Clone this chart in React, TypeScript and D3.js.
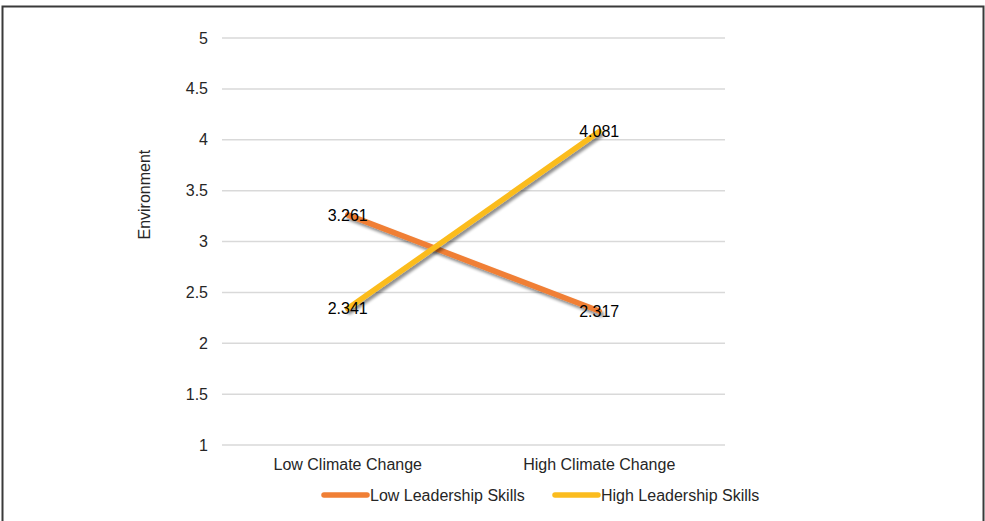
import React from "react";
import * as d3 from "d3";

const categories = ["Low Climate Change", "High Climate Change"];
const seriesNames = ["Low Leadership Skills", "High Leadership Skills"];
const lowLeadership = [3.261, 2.317];
const highLeadership = [2.341, 4.081];
const yTicks = [1, 1.5, 2, 2.5, 3, 3.5, 4, 4.5, 5];
const colors = ["#F07F35", "#FBBC1E"];

const W = 985;
const H = 521;
const FONT = "'Liberation Sans', Arial, sans-serif";
const FS = 16;

export default function App() {
  const x = d3.scalePoint<string>().domain(categories).range([222, 725]).padding(0.5);
  const y = d3.scaleLinear().domain([1, 5]).range([445, 38]);
  const line = d3
    .line<number>()
    .x((_, i) => x(categories[i]) as number)
    .y((d) => y(d));
  const series = [lowLeadership, highLeadership];

  return (
    <div style={{ position: "fixed", left: 0, top: 0, margin: 0 }}>
      <svg width={W} height={H} style={{ display: "block", background: "#fff" }}>
        <defs>
          <filter id="sh" x="-20%" y="-20%" width="140%" height="160%">
            <feGaussianBlur in="SourceAlpha" stdDeviation="1.5" />
            <feOffset dx="1.5" dy="2.5" result="b" />
            <feComponentTransfer>
              <feFuncA type="linear" slope="0.45" />
            </feComponentTransfer>
            <feMerge>
              <feMergeNode />
              <feMergeNode in="SourceGraphic" />
            </feMerge>
          </filter>
        </defs>
        <rect x={2.5} y={6.5} width={981} height={530} fill="none" stroke="#3a3a3a" strokeWidth={2} />
        {yTicks.map((t) => (
          <g key={t}>
            <line x1={222} x2={725} y1={y(t)} y2={y(t)} stroke="#d9d9d9" strokeWidth={1.5} />
            <text x={208} y={y(t)} dy="0.35em" textAnchor="end" fontFamily={FONT} fontSize={FS} fill="#262626">
              {t}
            </text>
          </g>
        ))}
        <text
          transform={`translate(150,${y(3.5) + 4}) rotate(-90)`}
          textAnchor="middle"
          fontFamily={FONT}
          fontSize={FS}
          fill="#262626"
        >
          Environment
        </text>
        {categories.map((c) => (
          <text key={c} x={x(c)} y={470} textAnchor="middle" fontFamily={FONT} fontSize={FS} fill="#262626">
            {c}
          </text>
        ))}
        {series.map((s, i) => (
          <path
            key={i}
            d={line(s) || ""}
            fill="none"
            stroke={colors[i]}
            strokeWidth={5.5}
            strokeLinecap="round"
            filter="url(#sh)"
          />
        ))}
        {series.map((s, i) =>
          s.map((v, j) => (
            <text
              key={`${i}-${j}`}
              x={x(categories[j])}
              y={y(v)}
              dy="0.35em"
              textAnchor="middle"
              fontFamily={FONT}
              fontSize={FS}
              fill="#000"
            >
              {v.toFixed(3)}
            </text>
          ))
        )}
        {seriesNames.map((n, i) => {
          const lx = i === 0 ? 324 : 555;
          return (
            <g key={n}>
              <line x1={lx} x2={lx + 43} y1={495} y2={495} stroke={colors[i]} strokeWidth={5.5} strokeLinecap="round" />
              <text x={lx + 46} y={495} dy="0.35em" fontFamily={FONT} fontSize={FS} fill="#262626">
                {n}
              </text>
            </g>
          );
        })}
      </svg>
    </div>
  );
}
